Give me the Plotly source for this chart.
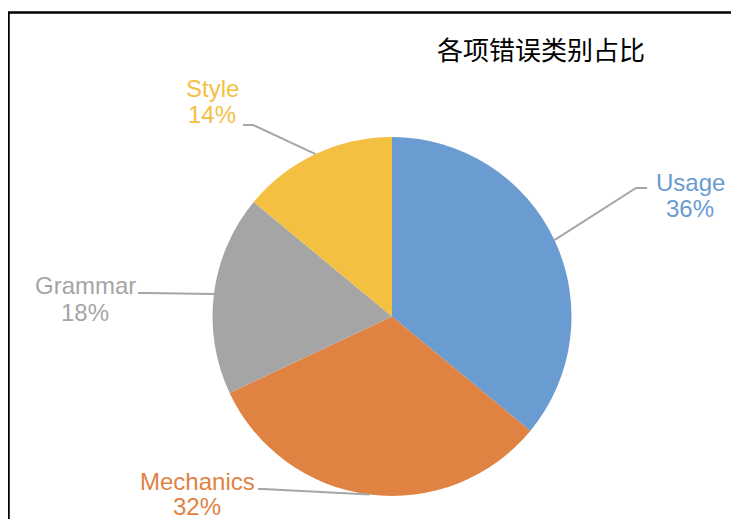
import math
import plotly.graph_objects as go

# ---- data ----
categories = ["Usage", "Mechanics", "Grammar", "Style"]
values = [36, 32, 18, 14]
colors = ["#6A9BD1", "#E08242", "#A5A5A5", "#F4C041"]
title_text = "各项错误类别占比"

# ---- layout constants (pixels, reference coordinates) ----
WIN_W, WIN_H = 739, 519
OFF = 8  # page body margin offset
W, H = WIN_W - OFF, WIN_H - OFF
CX, CY, R = 392, 316.5, 179.5

# label text centres and leader-line elbows per category (style)
label_pos = {
    "Usage": dict(name=(690, 182), pct=(690, 209), elbow=(636, 188), end=(647, 188)),
    "Mechanics": dict(name=(197, 481), pct=(197, 506), elbow=(263, 489), end=(258, 489)),
    "Grammar": dict(name=(85, 285), pct=(85, 312), elbow=(146, 293), end=(138, 293)),
    "Style": dict(name=(212, 88), pct=(212, 114), elbow=(253, 125), end=(243, 125)),
}


def px(x):
    return (x - OFF) / W


def py(y):
    return 1 - (y - OFF) / H


fig = go.Figure(
    go.Pie(
        labels=categories,
        values=values,
        sort=False,
        direction="clockwise",
        rotation=0,
        marker=dict(colors=colors, line=dict(width=0)),
        textinfo="none",
        hoverinfo="label+percent",
        domain=dict(x=[px(CX - R), px(CX + R)], y=[py(CY + R), py(CY - R)]),
        showlegend=False,
    )
)

FONT = "Liberation Sans, Arial, sans-serif"
total = sum(values)
cum = 0
shapes = []
annotations = []
for cat, v, c in zip(categories, values, colors):
    mid = (cum + v / 2) / total * 2 * math.pi
    cum += v
    ax = CX + R * math.sin(mid)
    ay = CY - R * math.cos(mid)
    lp = label_pos[cat]
    ex, ey = lp["elbow"]
    fx, fy = lp["end"]
    shapes.append(dict(
        type="path", xref="paper", yref="paper",
        path=f"M {px(ax)} {py(ay)} L {px(ex)} {py(ey)} L {px(fx)} {py(fy)}",
        line=dict(color="#A6A6A6", width=2),
    ))
    pct = round(v / total * 100)
    for txt, key in ((cat, "name"), (f"{pct}%", "pct")):
        tx, ty = lp[key]
        annotations.append(dict(
            x=px(tx), y=py(ty), xref="paper", yref="paper",
            text=txt, showarrow=False,
            xanchor="center", yanchor="middle", align="center",
            font=dict(family=FONT, size=24, color=c),
        ))

# frame
shapes.append(dict(
    type="rect", xref="paper", yref="paper",
    x0=px(8.5), x1=1.05, y0=-0.05, y1=py(12.5),
    line=dict(color="black", width=2.5), layer="below",
))

annotations.append(dict(
    x=px(541), y=py(48), xref="paper", yref="paper",
    text=title_text, showarrow=False, xanchor="center", yanchor="middle",
    font=dict(family="Noto Sans CJK SC, sans-serif", size=26, color="black"),
))

fig.update_layout(
    width=W, height=H,
    margin=dict(l=0, r=0, t=0, b=0),
    paper_bgcolor="white",
    plot_bgcolor="white",
    shapes=shapes,
    annotations=annotations,
)

fig.write_html("out.html")
